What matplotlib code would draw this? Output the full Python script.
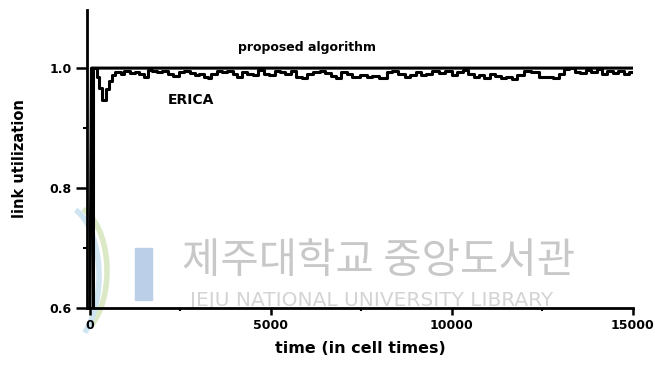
import matplotlib
matplotlib.use("Agg")
import matplotlib.pyplot as plt
from matplotlib.patches import Rectangle, Arc
from matplotlib.transforms import IdentityTransform

# proposed algorithm: jumps to full utilisation right away
prop_t = [0, 40, 15000]
prop_u = [0.6, 1.0, 1.0]

# ERICA: step curve
erica_t = [0, 70, 180, 250, 330, 450, 520, 600, 700, 850, 950, 1100, 1250,
           1350, 1500, 1600, 1700, 1850, 2000, 2150, 2300, 2450, 2600, 2750,
           2900, 3000, 3150, 3250, 3350, 3500, 3650, 3800, 3950, 4050, 4200,
           4350, 4500, 4650, 4800, 4950, 5100, 5250, 5400, 5550, 5700, 5850,
           6000, 6150, 6350, 6500, 6650, 6800, 6950, 7100, 7250, 7450, 7650,
           7800, 8000, 8200, 8350, 8500, 8700, 8850, 9000, 9150, 9300, 9450,
           9650, 9800, 10000, 10150, 10300, 10450, 10600, 10750, 10900, 11050,
           11200, 11350, 11500, 11650, 11800, 12000, 12200, 12400, 12600,
           12800, 12950, 13100, 13250, 13400, 13550, 13700, 13850, 14000,
           14150, 14300, 14450, 14600, 14750, 14900, 15000]
erica_u = [0.6, 1.0, 0.985, 0.967, 0.947, 0.965, 0.978, 0.988, 0.993, 0.99,
           0.995, 0.992, 0.994, 0.99, 0.985, 0.997, 0.995, 0.993, 0.996,
           0.99, 0.987, 0.993, 0.996, 0.992, 0.988, 0.99, 0.986, 0.983,
           0.991, 0.996, 0.993, 0.995, 0.99, 0.986, 0.994, 0.991, 0.988,
           0.997, 0.99, 0.988, 0.996, 0.993, 0.991, 0.995, 0.986, 0.984,
           0.99, 0.993, 0.995, 0.992, 0.987, 0.984, 0.994, 0.991, 0.986,
           0.988, 0.985, 0.987, 0.984, 0.993, 0.996, 0.99, 0.985, 0.989,
           0.993, 0.988, 0.99, 0.996, 0.992, 0.996, 0.989, 0.993, 0.997,
           0.99, 0.986, 0.988, 0.983, 0.99, 0.987, 0.984, 0.986, 0.982,
           0.989, 0.996, 0.993, 0.985, 0.986, 0.984, 0.991, 0.999, 1.0,
           0.994, 0.992, 0.997, 0.993, 0.998, 0.99, 0.996, 0.992, 0.995,
           0.991, 0.994, 0.994]

x_major = [0, 5000, 10000, 15000]
x_minor = [2500, 7500, 12500]
y_major = [0.6, 0.8, 1.0]
y_minor = [0.7, 0.9]
y_labels = ["0.6", "0.8", "1.0"]

fig = plt.figure(figsize=(6.55, 3.66), dpi=100)
ax = fig.add_axes([0.133, 0.158, 0.833, 0.815])

# library watermark (sits behind the plot lines)
ax.text(0.578, 0.285, "제주대학교 중앙도서관", transform=fig.transFigure,
        fontsize=30, color="#c8c8c8", ha="center", va="center",
        family=["Noto Sans CJK KR", "DejaVu Sans"], zorder=0.5)
ax.text(0.567, 0.178, "JEJU NATIONAL UNIVERSITY LIBRARY",
        transform=fig.transFigure, fontsize=14.5, color="#d4d4d4",
        ha="center", va="center", family="DejaVu Sans", zorder=0.5)
ax.add_patch(Rectangle((135, 66), 17, 52, transform=IdentityTransform(),
                       color="#bccfe9", zorder=0.4, clip_on=False))
ax.add_patch(Arc((72, 95), 70, 130, theta1=-70, theta2=80, lw=4,
                 color="#dbe9c6", transform=IdentityTransform(),
                 zorder=0.4, clip_on=False))
ax.add_patch(Arc((64, 90), 70, 140, theta1=-70, theta2=80, lw=4,
                 color="#cfe5f2", transform=IdentityTransform(),
                 zorder=0.4, clip_on=False))

ax.plot(prop_t, prop_u, color="black", lw=2.2, zorder=3)
ax.plot(erica_t, erica_u, color="black", lw=2.2, drawstyle="steps-post",
        zorder=3)

ax.text(6000, 1.035, "proposed algorithm", fontsize=9, fontweight="bold",
        ha="center", va="center")
ax.text(2800, 0.947, "ERICA", fontsize=10, fontweight="bold",
        ha="center", va="center")

ax.set_xlim(-80, 15000)
ax.set_ylim(0.6, 1.097)
ax.set_xticks(x_major)
ax.set_xticks(x_minor, minor=True)
ax.set_yticks(y_major)
ax.set_yticks(y_minor, minor=True)
ax.set_yticklabels(y_labels)
for lab in ax.get_xticklabels() + ax.get_yticklabels():
    lab.set_fontweight("bold")
ax.tick_params(axis="x", which="major", length=5, width=1.8, pad=3,
               labelsize=9)
ax.tick_params(axis="x", which="minor", length=2.5, width=1.5)
ax.tick_params(axis="y", which="major", length=8, width=1.8, pad=3,
               labelsize=9)
ax.tick_params(axis="y", which="minor", length=3, width=1.5)

for s in ["top", "right"]:
    ax.spines[s].set_visible(False)
for s in ["left", "bottom"]:
    ax.spines[s].set_linewidth(2.0)

ax.set_xlabel("time (in cell times)", fontsize=11.5, fontweight="bold",
              labelpad=6)
ax.set_ylabel("link utilization", fontsize=10.5, fontweight="bold",
              labelpad=16)

fig.savefig("out.png", dpi=100)
